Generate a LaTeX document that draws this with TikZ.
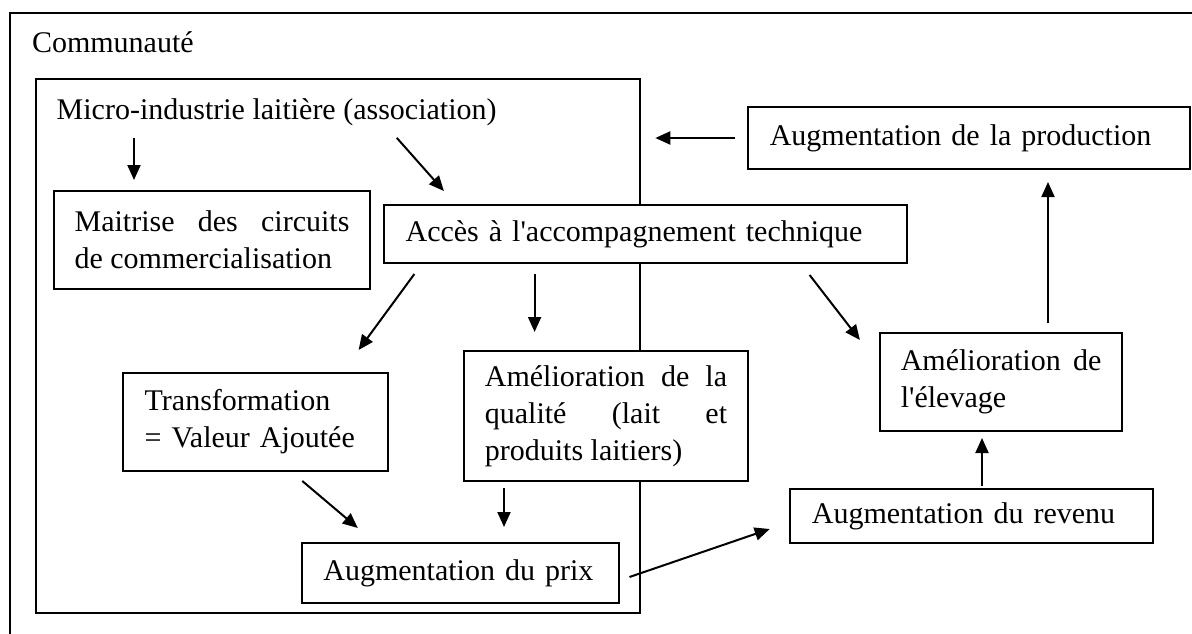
\documentclass[tikz,border=0pt]{standalone}
\usepackage{fontspec}
\setmainfont{Liberation Serif}
\usetikzlibrary{arrows.meta,calc}
\hyphenpenalty=10000
\exhyphenpenalty=10000
\hbadness=10000
\newcommand{\apo}{\textquotesingle}
\tikzset{
  frame/.style={draw, line width=2pt, anchor=north west, inner sep=0pt, outer sep=0pt},
  box/.style={draw, fill=white, line width=2pt, anchor=north west, inner ysep=0pt, outer sep=0pt, align=justify},
  arr/.style={-{Triangle[length=15pt,width=13pt]}, line width=2pt},
  lbl/.style={anchor=base west, inner sep=0pt, outer sep=0pt}
}
\begin{document}
\begin{tikzpicture}[x=1pt,y=-1pt,font=\fontsize{30}{37}\selectfont]
\useasboundingbox (0,0) rectangle (1192,634);
\clip (0,0) rectangle (1192,634);
% outer community frame (open to the right and bottom)
\node[frame, minimum width=1230pt, minimum height=680pt] (comm) at (10,13) {};
\node[lbl] (commlbl) at (32,53) {Communauté};
% inner association frame
\node[frame, minimum width=604.7pt, minimum height=533.7pt] (inner) at (35.6,79) {};
\node[lbl] (micro) at (56.7,119) {Micro-industrie laitière (association)};
% boxes
\node[box, inner xsep=21pt, text width=274.8pt, minimum width=316.8pt, minimum height=98pt] (maitrise) at (53.6,191)
  {Maitrise des circuits\linebreak de commercialisation};
\node[box, inner xsep=21.8pt, align=left, text width=479.3pt, minimum width=522.9pt, minimum height=58pt] (acces) at (383.8,205)
  {Accès à l\apo accompagnement technique};
\node[box, inner xsep=22pt, align=left, text width=398.2pt, minimum width=442.2pt, minimum height=62pt] (prod) at (747.8,107)
  {Augmentation de la production};
\node[box, inner xsep=21.5pt, align=left, text width=222.2pt, minimum width=265.2pt, minimum height=98pt] (transf) at (123.2,373)
  {Transformation\\= Valeur Ajoutée};
\node[box, inner xsep=21.1pt, text width=242.2pt, minimum width=284.4pt, minimum height=130pt] (qual) at (463.8,351)
  {Amélioration de la\linebreak qualité (lait et\linebreak produits laitiers)};
\node[box, inner xsep=21pt, text width=200.6pt, minimum width=242.6pt, minimum height=98pt] (elev) at (879.8,333)
  {Amélioration de\linebreak l\apo élevage};
\node[box, inner xsep=22.3pt, align=left, text width=318.6pt, minimum width=363.2pt, minimum height=54pt] (revenu) at (789.6,489)
  {Augmentation du revenu};
\node[box, inner xsep=21.8pt, align=left, text width=273.6pt, minimum width=317.2pt, minimum height=60pt] (prix) at (301.6,543)
  {Augmentation du prix};
% connectors
\draw[arr] ($(micro.south west)+(77.3,12.5)$) -- ($(maitrise.north west)+(80.4,-11)$);
\draw[arr] ($(micro.south west)+(340.1,12.5)$) -- ($(acces.north west)+(60.1,-14)$);
\draw[arr] ($(prod.west)+(-12.8,0)$) -- ($(prod.west -| inner.east)+(15,0)$);
\draw[arr] ($(acces.south west)+(30.6,11)$) -- ($(transf.north west)+(235.4,-23)$);
\draw[arr] ($(acces.south west)+(150.8,11)$) -- ($(qual.north west)+(70.8,-19)$);
\draw[arr] ($(acces.south west)+(425.8,12)$) -- ($(elev.north west)+(-19.9,7)$);
\draw[arr] ($(transf.south west)+(179.1,10)$) -- ($(prix.north west)+(56.2,-15)$);
\draw[arr] ($(qual.south west)+(40.2,7)$) -- ($(prix.north west)+(202.4,-16)$);
\draw[arr] ($(prix.south east)+(10.7,-26)$) -- ($(revenu.south west)+(-19.9,-14)$);
\draw[arr] ($(revenu.north west)+(192.4,-3)$) -- ($(elev.south west)+(102.2,7)$);
\draw[arr] ($(elev.north west)+(168.2,-10)$) -- ($(prod.south west)+(300.2,13)$);
\end{tikzpicture}
\end{document}
